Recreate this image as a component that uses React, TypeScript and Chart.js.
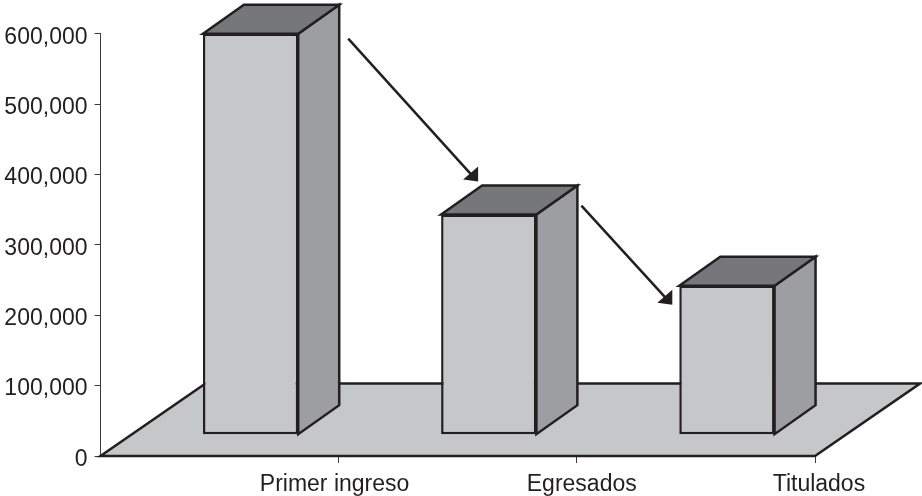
import React, { useEffect, useRef } from "react";
import { Chart, registerables } from "chart.js";

Chart.register(...registerables);

const categories = ["Primer ingreso", "Egresados", "Titulados"];
const barTops = [600000, 343000, 242000];
const barBase = 31000;
const yTicks = [0, 100000, 200000, 300000, 400000, 500000, 600000];

const FRONT = "#c6c7c9";
const SIDE = "#9d9ea1";
const TOP = "#76777a";
const INK = "#231f20";
const AXIS = "#3c3a3b";
const FONT = "'Liberation Sans', Arial, sans-serif";

const BAR_SHIFT = 31;
const BAR_DX = 41;
const BAR_DY = 29;
const FLOOR_DX = 105;
const FLOOR_DY = 72.5;
const LABEL_SHIFTS = [-4, 5, 4];
const Y_LABEL_DROP = 3.5;
const LINE = 2.5;

function poly(ctx: CanvasRenderingContext2D, pts: number[][], fill: string | null, stroke: boolean) {
  ctx.beginPath();
  pts.forEach((p, i) => (i ? ctx.lineTo(p[0], p[1]) : ctx.moveTo(p[0], p[1])));
  ctx.closePath();
  if (fill) {
    ctx.fillStyle = fill;
    ctx.fill();
  }
  if (stroke) ctx.stroke();
}

const scene3d = {
  id: "scene3d",
  beforeDraw(chart: any) {
    const s = chart.scales.x;
    s._labelItems = s._computeLabelItems(chart.chartArea);
    s._labelItems.forEach((it: any, i: number) => {
      it.options.translation = [it.options.translation[0] + LABEL_SHIFTS[i], it.options.translation[1]];
    });
    const sy = chart.scales.y;
    sy._labelItems = sy._computeLabelItems(chart.chartArea);
    sy._labelItems.forEach((it: any) => {
      it.options.translation = [it.options.translation[0], it.options.translation[1] + Y_LABEL_DROP];
    });
  },
  beforeDatasetsDraw(chart: any) {
    const ctx = chart.ctx as CanvasRenderingContext2D;
    const { left, right, bottom } = chart.chartArea;
    ctx.save();
    ctx.strokeStyle = INK;
    ctx.lineWidth = LINE;
    ctx.lineJoin = "miter";
    poly(
      ctx,
      [
        [left, bottom],
        [right, bottom],
        [right + FLOOR_DX, bottom - FLOOR_DY],
        [left + FLOOR_DX, bottom - FLOOR_DY],
      ],
      FRONT,
      true
    );
    ctx.translate(BAR_SHIFT, 0);
    chart.getDatasetMeta(0).data.forEach((bar: any) => {
      const { x, y, base, width } = bar.getProps(["x", "y", "base", "width"], true);
      const l = x - width / 2;
      const r = x + width / 2;
      poly(ctx, [[r, y], [r + BAR_DX, y - BAR_DY], [r + BAR_DX, base - BAR_DY], [r, base]], SIDE, true);
      poly(ctx, [[l, y], [l + BAR_DX, y - BAR_DY], [r + BAR_DX, y - BAR_DY], [r, y]], TOP, true);
    });
  },
  afterDatasetsDraw(chart: any) {
    const ctx = chart.ctx as CanvasRenderingContext2D;
    const bars = chart.getDatasetMeta(0).data.map((b: any) => b.getProps(["x", "y", "width"], true));
    const arrow = (x0: number, y0: number, x1: number, y1: number) => {
      ctx.strokeStyle = INK;
      ctx.lineWidth = LINE;
      ctx.beginPath();
      ctx.moveTo(x0, y0);
      ctx.lineTo(x1 - 5, y1 - 5);
      ctx.stroke();
      ctx.fillStyle = INK;
      ctx.beginPath();
      ctx.moveTo(x1, y1);
      ctx.lineTo(x1, y1 - 15);
      ctx.lineTo(x1 - 15, y1 - 2);
      ctx.closePath();
      ctx.fill();
    };
    // translated by BAR_SHIFT, still inside the save from beforeDatasetsDraw
    const edge = (b: any, side: number) => b.x + (side * b.width) / 2;
    arrow(edge(bars[0], 1) + BAR_DX + 9, bars[0].y + 5, edge(bars[1], -1) + 37, bars[1].y - 33);
    arrow(edge(bars[1], 1) + BAR_DX + 4, bars[1].y - 9, edge(bars[2], -1) - 7, bars[2].y + 19);
    ctx.restore();
  },
};

export default function App() {
  const ref = useRef<HTMLCanvasElement>(null);
  useEffect(() => {
    document.body.style.margin = "0";
    const chart = new Chart(ref.current as HTMLCanvasElement, {
      type: "bar",
      data: {
        labels: categories,
        datasets: [
          {
            data: barTops.map((v) => [barBase, v]) as any,
            backgroundColor: FRONT,
            borderColor: INK,
            borderWidth: LINE,
            borderSkipped: false,
            barPercentage: 0.4,
            categoryPercentage: 1,
            clip: false as any,
          },
        ],
      },
      options: {
        responsive: false,
        animation: false,
        layout: { padding: { top: 33.7, right: 107, left: 0, bottom: 0 } },
        plugins: { legend: { display: false }, tooltip: { enabled: false }, title: { display: false } },
        scales: {
          x: {
            offset: true,
            afterFit: (s: any) => {
              s.height = 40;
            },
            border: { display: false },
            grid: {
              offset: true,
              drawOnChartArea: false,
              drawTicks: true,
              tickLength: 7,
              tickColor: (c: any) => (c.index === 0 ? "transparent" : AXIS),
            },
            ticks: {
              color: INK,
              font: { family: FONT, size: 23 },
              labelOffset: 119,
              padding: 8,
              maxRotation: 0,
              autoSkip: false,
            },
          },
          y: {
            min: 0,
            max: 600000,
            afterFit: (s: any) => {
              s.width = 100.5;
            },
            afterBuildTicks: (s: any) => {
              s.ticks = yTicks.map((value) => ({ value }));
            },
            border: { display: true, color: AXIS, width: 1 },
            grid: { drawOnChartArea: false, tickLength: 6, tickColor: AXIS },
            ticks: {
              color: INK,
              font: { family: FONT, size: 23 },
              padding: 7,
              callback: (v: any) => Number(v).toLocaleString("en-US"),
            },
          },
        },
      },
      plugins: [scene3d as any],
    });
    return () => chart.destroy();
  }, []);
  return <canvas ref={ref} width={922} height={496} style={{ display: "block" }} />;
}
